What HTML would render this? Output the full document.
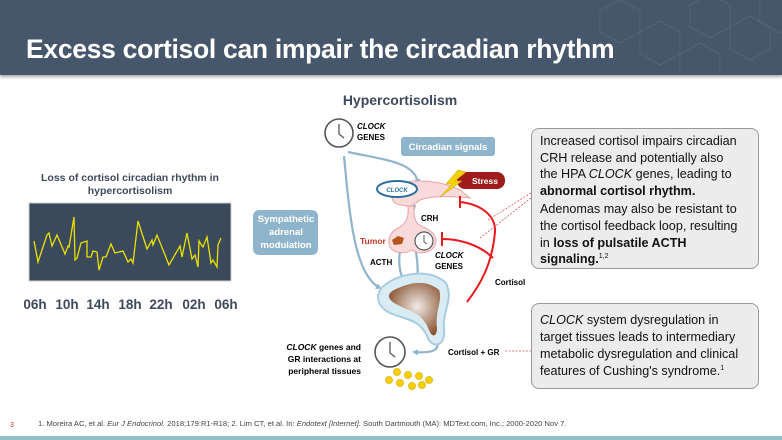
<!DOCTYPE html>
<html><head><meta charset="utf-8"><style>
body{margin:0;width:782px;height:440px;overflow:hidden;background:#fff;font-family:"Liberation Sans",sans-serif;position:relative}
.hdr{position:absolute;left:0;top:0;width:782px;height:75px;background:#46566b;box-shadow:0 2px 3px rgba(0,0,0,.35)}
.hdr h1{position:absolute;left:26px;top:34px;margin:0;font-size:26.5px;font-weight:bold;color:#fff;letter-spacing:-0.3px}
.box{position:absolute;background:#ececec;border:1.5px solid #999;border-radius:8px;box-sizing:border-box;font-size:12.6px;line-height:16.6px;color:#111;padding:4px 8px}
.box p{margin:0}
</style></head><body>
<div class="hdr">
<svg width="782" height="75" style="position:absolute;left:0;top:0" fill="none" stroke="#56667a" stroke-width="0.8">
<polygon points="600,10 620,0 640,10 640,32 620,43 600,32"/>
<polygon points="640,32 660,21 680,32 680,54 660,65 640,54"/>
<polygon points="690,5 710,-6 730,5 730,27 710,38 690,27"/>
<polygon points="730,27 750,16 770,27 770,49 750,60 730,49"/>
<polygon points="680,54 700,43 720,54 720,76 700,87 680,76"/>
<polygon points="760,0 780,-11 800,0 800,22 780,33 760,22"/>
</svg>
<h1>Excess cortisol can impair the circadian rhythm</h1>
</div>

<svg width="782" height="440" style="position:absolute;left:0;top:0" font-family="Liberation Sans, sans-serif">
<defs>
<marker id="ab" markerWidth="6" markerHeight="6" refX="4" refY="3" orient="auto" markerUnits="userSpaceOnUse"><path d="M0,0 L6,3 L0,6z" fill="#8fb5cc"/></marker>
<radialGradient id="ad" cx="0.55" cy="0.45" r="0.6"><stop offset="0" stop-color="#f0eae6"/><stop offset="1" stop-color="#8a5432"/></radialGradient>
</defs>
<text x="130" y="181" text-anchor="middle" font-size="10.5" font-weight="bold" fill="#3d4a5c">Loss of cortisol circadian rhythm in</text>
<text x="130" y="194" text-anchor="middle" font-size="10.5" font-weight="bold" fill="#3d4a5c">hypercortisolism</text>
<rect x="29" y="203" width="202" height="78" fill="#3b4a5a" stroke="#ccc" stroke-width="1"/>
<polyline fill="none" stroke="#e8e000" stroke-width="1.3" points="34,241 38,262 43,247 47,235 49,233 52,246 57,235 65,254 68,246 69,247 74,217 75,260 77,258 81,243 87,241 87,257 91,257 93,251 97,252 99,270 103,257 106,257 111,244 115,253 123,251 128,262 131,259 133,263 138,221 147,249 152,240 153,245 157,235 169,265 180,246 182,257 187,233 192,259 195,255 198,267 199,241 202,246 203,247 207,237 211,263 213,260 217,267 218,245 221,238"/>
<g font-size="13.5" font-weight="bold" fill="#3d4a5c" text-anchor="middle">
<text x="35" y="309">06h</text><text x="67" y="309">10h</text><text x="98" y="309">14h</text><text x="130" y="309">18h</text><text x="161" y="309">22h</text><text x="194" y="309">02h</text><text x="226" y="309">06h</text>
</g>

<text x="400" y="105" text-anchor="middle" font-size="14" font-weight="bold" fill="#3d4a5c">Hypercortisolism</text>
<g fill="none" stroke="#8fb5cc" stroke-width="2.2">
<path d="M348,152 C385,160 415,162 418,183" marker-end="url(#ab)"/>
<path d="M344,156 C350,220 355,275 380,288" marker-end="url(#ab)"/>
<path d="M415,205 C410,220 410,228 412,235" />
<path d="M400,250 C398,265 400,275 405,282" marker-end="url(#ab)"/>
<path d="M416,252 C418,265 418,275 417,282" marker-end="url(#ab)"/>
<path d="M437,342 C440,352 428,353 414,352" marker-end="url(#ab)"/>
</g>
<g stroke="#555" fill="#fff"><circle cx="339" cy="133" r="14" stroke-width="1.6"/><path d="M339,124 L339,134 L344,138" fill="none" stroke-width="1.3"/></g>
<text x="357" y="129" font-size="8" font-weight="bold" font-style="italic">CLOCK</text>
<text x="357" y="140" font-size="8" font-weight="bold">GENES</text>
<rect x="401" y="137" width="94" height="19" rx="3" fill="#8fb5cc"/>
<text x="448" y="150" text-anchor="middle" font-size="9.5" font-weight="bold" fill="#fff">Circadian signals</text>
<rect x="253" y="210" width="65" height="45" rx="6" fill="#8fb5cc"/>
<g font-size="9.5" font-weight="bold" fill="#fff" text-anchor="middle"><text x="286" y="222">Sympathetic</text><text x="286" y="235">adrenal</text><text x="286" y="248">modulation</text></g>
<path d="M395,185 C410,178 440,180 460,190 L470,198 C450,196 430,196 420,200 C414,205 410,208 402,205 C392,205 388,195 395,185z" fill="#f8dadb" stroke="#e7a3a6" stroke-width="1"/>
<ellipse cx="397" cy="189" rx="20" ry="8" fill="#fff" stroke="#2a6fa0" stroke-width="2"/>
<text x="397" y="192" text-anchor="middle" font-size="6" font-weight="bold" font-style="italic" fill="#2a6fa0">CLOCK</text>
<rect x="457" y="172" width="48" height="17" rx="8" fill="#a01c1c"/>
<text x="485" y="184" text-anchor="middle" font-size="8.5" font-weight="bold" fill="#fff">Stress</text>
<path d="M458,170 L446,184 L452,184 L440,197 L462,181 L455,181 L466,172z" fill="#f5d000" stroke="#c9a000" stroke-width="0.5"/>
<text x="421" y="221" font-size="8" font-weight="bold">CRH</text>
<path d="M408,206 C409,218 406,224 398,228 C390,232 387,240 390,247 C394,254 405,254 412,250 C420,256 435,252 436,242 C437,232 425,228 418,224 C414,220 414,214 414,206z" fill="#f8dadb" stroke="#e7a3a6" stroke-width="1"/>
<path d="M392,240 L398,236 L404,238 L402,244 L394,245z" fill="#b5541e"/>
<text x="360" y="244" font-size="8.5" font-weight="bold" fill="#c0392b">Tumor</text>
<g stroke="#555" fill="#fff"><circle cx="424" cy="241" r="9" stroke-width="1.2"/><path d="M424,235 L424,242 L427,244" fill="none"/></g>
<text x="435" y="258" font-size="8" font-weight="bold" font-style="italic">CLOCK</text>
<text x="435" y="269" font-size="8" font-weight="bold">GENES</text>
<text x="370" y="265" font-size="8" font-weight="bold">ACTH</text>
<path d="M386,284 C402,273 430,268 446,283 C454,300 442,310 444,330 C446,346 432,350 427,336 C419,318 404,320 388,312 C375,304 375,292 386,284z" fill="#d9ecf3" stroke="#a9cde0" stroke-width="2"/>
<path d="M394,290 C410,282 426,279 439,290 C443,300 435,310 437,328 C437,337 432,338 429,330 C422,312 410,312 396,304 C387,299 387,294 394,290z" fill="url(#ad)"/>
<text x="495" y="285" font-size="8" font-weight="bold">Cortisol</text>
<g fill="none" stroke="#e8181c" stroke-width="2">
<path d="M467,302 C480,285 492,265 495,232 C496,215 480,204 460,202"/>
<path d="M460,196 L460,208"/>
<path d="M493,258 C480,245 460,239 442,239"/>
<path d="M442,232 L442,246"/>
</g>
<g stroke="#d55" stroke-width="0.8" stroke-dasharray="2,1.5" fill="none">
<path d="M531,193 L488,220"/><path d="M531,198 L480,238"/>
<path d="M505,351 L531,351"/>
</g>
<text x="448" y="355" font-size="8" font-weight="bold">Cortisol + GR</text>
<g stroke="#555" fill="#fff"><circle cx="390" cy="352" r="15" stroke-width="1.6"/><path d="M390,342 L390,353 L395,357" fill="none" stroke-width="1.3"/></g>
<g fill="#f5d000" stroke="#e0b000" stroke-width="0.8">
<circle cx="397" cy="372" r="3.5"/><circle cx="408" cy="375" r="3.5"/><circle cx="419" cy="376" r="3.5"/><circle cx="429" cy="380" r="3.5"/>
<circle cx="389" cy="380" r="3.5"/><circle cx="400" cy="383" r="3.5"/><circle cx="412" cy="386" r="3.5"/><circle cx="422" cy="385" r="3.5"/>
</g>
<g font-size="8.5" font-weight="bold" text-anchor="end">
<text x="361" y="350"><tspan font-style="italic">CLOCK</tspan> genes and</text>
<text x="361" y="362">GR interactions at</text>
<text x="361" y="374">peripheral tissues</text>
</g>
<text x="10" y="427" font-size="7" fill="#c0392b">3</text>
<text x="38" y="426" font-size="7.6" fill="#444">1. Moreira AC, et al. <tspan font-style="italic">Eur J Endocrinol.</tspan> 2018;179:R1-R18; 2. Lim CT, et al. In: <tspan font-style="italic">Endotext [Internet].</tspan> South Dartmouth (MA): MDText.com, Inc.; 2000-2020 Nov 7.</text>
<rect x="0" y="436" width="782" height="4" fill="#8fc1c9"/>
</svg>

<div class="box" style="left:531px;top:128px;width:228px;height:141px">
<p>Increased cortisol impairs circadian<br>CRH release and potentially also<br>the HPA <i>CLOCK</i> genes, leading to<br><b>abnormal cortisol rhythm.</b></p>
<p style="margin-top:2px">Adenomas may also be resistant to<br>the cortisol feedback loop, resulting<br>in <b>loss of pulsatile ACTH<br>signaling.</b><sup style="font-size:7px;line-height:0">1,2</sup></p>
</div>
<div class="box" style="left:531px;top:303px;width:228px;height:86px;padding-top:8px;line-height:17px">
<p><i>CLOCK</i> system dysregulation in<br>target tissues leads to intermediary<br>metabolic dysregulation and clinical<br>features of Cushing's syndrome.<sup style="font-size:7px;line-height:0">1</sup></p>
</div>
</body></html>
